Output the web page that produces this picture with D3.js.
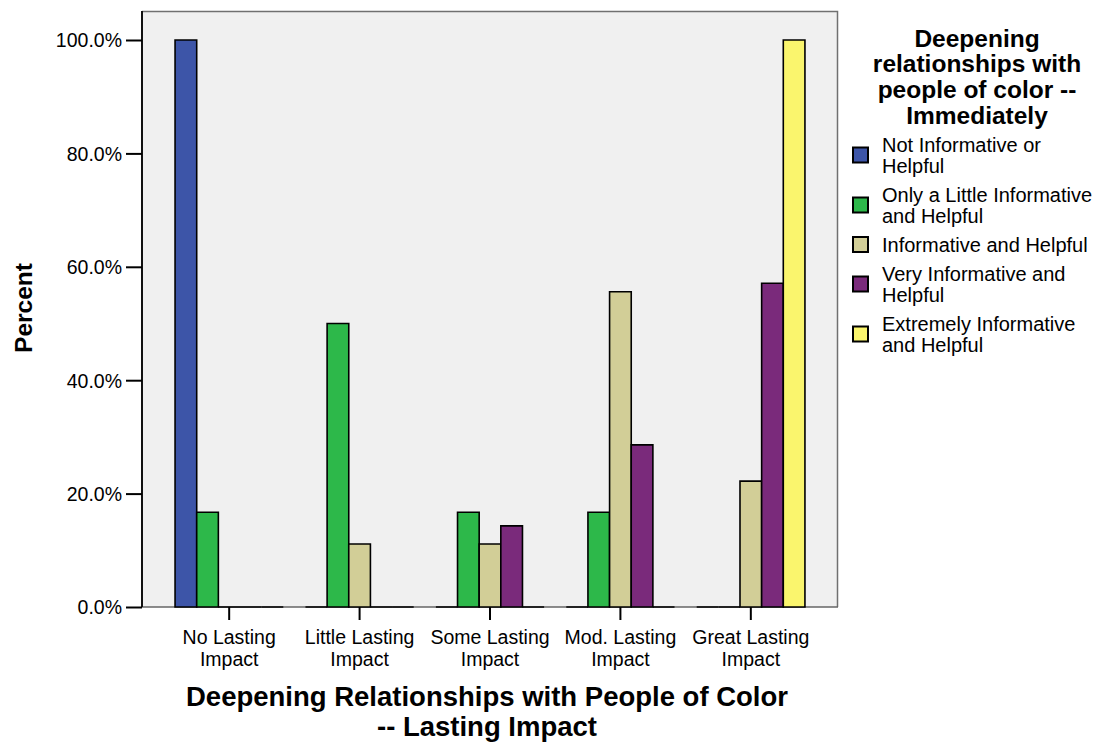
<!DOCTYPE html>
<html>
<head>
<meta charset="utf-8">
<script src="https://cdn.jsdelivr.net/npm/d3@7"></script>
<style>
  html, body { margin: 0; padding: 0; background: #ffffff; }
  svg { display: block; font-family: "Liberation Sans", Arial, Helvetica, sans-serif; }
</style>
</head>
<body>
<svg id="chart" width="1098" height="742"></svg>
<script>
// ---- Data ----
const categories = ["No Lasting Impact", "Little Lasting Impact", "Some Lasting Impact", "Mod. Lasting Impact", "Great Lasting Impact"];
const categoryLabelLines = [["No Lasting", "Impact"], ["Little Lasting", "Impact"], ["Some Lasting", "Impact"], ["Mod. Lasting", "Impact"], ["Great Lasting", "Impact"]];
const seriesNames = ["Not Informative or Helpful", "Only a Little Informative and Helpful", "Informative and Helpful", "Very Informative and Helpful", "Extremely Informative and Helpful"];
const legendLabelLines = [["Not Informative or", "Helpful"], ["Only a Little Informative", "and Helpful"], ["Informative and Helpful"], ["Very Informative and", "Helpful"], ["Extremely Informative", "and Helpful"]];
const notInformative   = [100, 0, 0, 0, 0];
const onlyALittle      = [16.7, 50, 16.7, 16.7, 0];
const informative      = [0, 11.1, 11.1, 55.6, 22.2];
const veryInformative  = [0, 0, 14.3, 28.6, 57.1];
const extremely        = [0, 0, 0, 0, 100];
const seriesValues = [notInformative, onlyALittle, informative, veryInformative, extremely];
const seriesColors = ["#3d55a8", "#2db84a", "#d2ce97", "#7a2a7b", "#faf56d"];
const yTicks = [0, 20, 40, 60, 80, 100];
const legendTitleLines = ["Deepening", "relationships with", "people of color --", "Immediately"];
const xTitleLines = ["Deepening Relationships with People of Color", "-- Lasting Impact"];
const yTitle = "Percent";

// ---- Layout ----
const plot = { left: 142, right: 838, top: 11, bottom: 607 };
const svg = d3.select("#chart");

const x0 = d3.scaleBand().domain(categories).range([plot.left, plot.right])
  .paddingInner(0.17).paddingOuter(0.2535);
const x1 = d3.scaleBand().domain(seriesNames).range([0, x0.bandwidth()]).padding(0);
const y = d3.scaleLinear().domain([0, 100]).range([plot.bottom, 40]);
const color = d3.scaleOrdinal().domain(seriesNames).range(seriesColors);

// plot background
svg.append("rect")
  .attr("x", plot.left).attr("y", plot.top)
  .attr("width", plot.right - plot.left).attr("height", plot.bottom - plot.top)
  .attr("fill", "#f0f0f0");
// frame top/right (gray)
svg.append("path")
  .attr("d", `M${plot.left},${plot.top + 0.5}H${plot.right - 0.5}V${plot.bottom}`)
  .attr("fill", "none").attr("stroke", "#707070").attr("stroke-width", 1.5);

// X axis
const xAxis = d3.axisBottom(x0).tickSize(13).tickFormat("");
const gx = svg.append("g").attr("transform", `translate(0,${plot.bottom})`).call(xAxis);
gx.attr("font-family", null).attr("font-size", null);
gx.select(".domain").attr("stroke", "#666").attr("stroke-width", 1.5)
  .attr("d", `M${plot.left},0H${plot.right}`);
gx.selectAll(".tick line").attr("stroke", "#000").attr("stroke-width", 2);
gx.selectAll(".tick").each(function (d, i) {
  const t = d3.select(this).append("text")
    .attr("fill", "#000").attr("font-size", 19.5).attr("text-anchor", "middle");
  categoryLabelLines[i].forEach((ln, j) => {
    t.append("tspan").attr("x", 0).attr("y", 37 + j * 21.5).text(ln);
  });
});

// Y axis
const yAxis = d3.axisLeft(y).tickValues(yTicks).tickSize(16).tickPadding(4)
  .tickFormat(d => d3.format(".1f")(d) + "%");
const gy = svg.append("g").attr("transform", `translate(${plot.left},0)`).call(yAxis);
gy.attr("font-family", null).attr("font-size", null);
gy.select(".domain").attr("stroke", "#111").attr("stroke-width", 2)
  .attr("d", `M0,${plot.top}V${plot.bottom}`);
gy.selectAll(".tick line").attr("stroke", "#000").attr("stroke-width", 2);
gy.selectAll(".tick text").attr("font-size", 19.5).attr("fill", "#000").attr("dy", "0.35em");

// bars (paths so that zero-height bars still show their outline)
const rows = [];
categories.forEach((c, ci) => {
  seriesNames.forEach((s, si) => rows.push({ cat: c, ser: s, val: seriesValues[si][ci] }));
});
svg.append("g").selectAll("path").data(rows).join("path")
  .attr("d", d => {
    const bx = x0(d.cat) + x1(d.ser), w = x1.bandwidth();
    const top = y(d.val), base = y(0);
    return `M${bx},${base}V${top}H${bx + w}V${base}Z`;
  })
  .attr("fill", d => color(d.ser))
  .attr("stroke", "#000")
  .attr("stroke-width", 1.6);

// X title
const xt = svg.append("text").attr("text-anchor", "middle")
  .attr("font-size", 27.5).attr("font-weight", "bold").attr("fill", "#000");
xTitleLines.forEach((ln, j) => {
  xt.append("tspan").attr("x", 487).attr("y", 706 + j * 30).text(ln);
});

// Y title
svg.append("text")
  .attr("transform", `translate(32,308) rotate(-90)`)
  .attr("text-anchor", "middle").attr("font-size", 24.5).attr("font-weight", "bold")
  .attr("fill", "#000").text(yTitle);

// Legend
const lt = svg.append("text").attr("text-anchor", "middle")
  .attr("font-size", 24.5).attr("font-weight", "bold").attr("fill", "#000");
legendTitleLines.forEach((ln, j) => {
  lt.append("tspan").attr("x", 977).attr("y", 46.5 + j * 25.8).text(ln);
});

const legend = svg.append("g");
let center = 155;
legendLabelLines.forEach((lines, i) => {
  if (i > 0) center += 10.5 * (legendLabelLines[i - 1].length + lines.length) + 8;
  const g = legend.append("g");
  g.append("rect")
    .attr("x", 853).attr("y", center - 7.5).attr("width", 15).attr("height", 15)
    .attr("fill", seriesColors[i]).attr("stroke", "#000").attr("stroke-width", 2);
  const t = g.append("text").attr("font-size", 20).attr("fill", "#000");
  lines.forEach((ln, j) => {
    t.append("tspan").attr("x", 882)
      .attr("y", center + (j - (lines.length - 1) / 2) * 21 + 7).text(ln);
  });
});
</script>
</body>
</html>
